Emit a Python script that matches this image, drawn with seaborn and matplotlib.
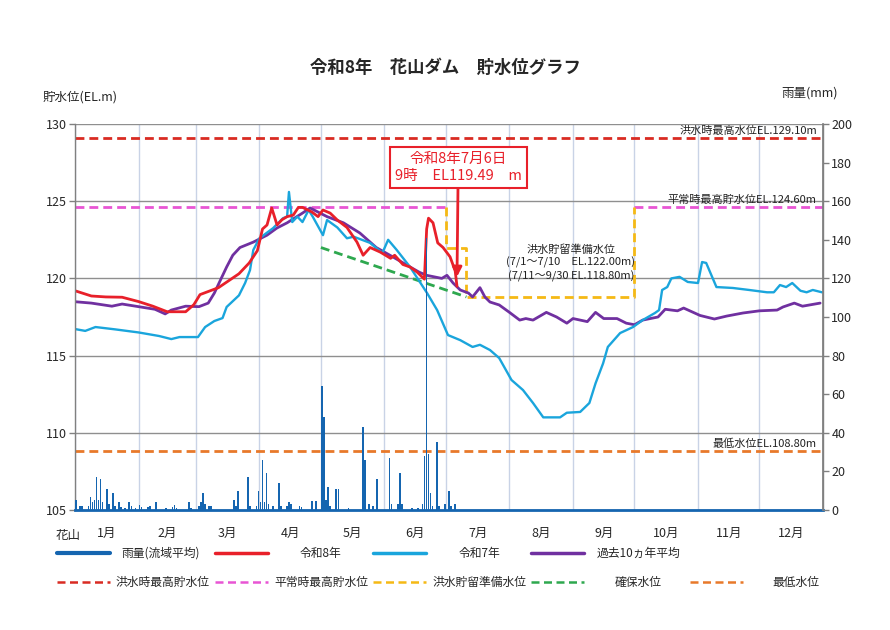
import numpy as np
import pandas as pd
import matplotlib
matplotlib.use("Agg")
import matplotlib.pyplot as plt
from matplotlib.lines import Line2D
import seaborn as sns

sns.set_theme(style="white")
plt.rcParams['font.family'] = ['Noto Sans CJK JP', 'DejaVu Sans']
plt.rcParams['axes.unicode_minus'] = False

# ---------------- data ----------------
month_labels = ["1月", "2月", "3月", "4月", "5月", "6月", "7月", "8月", "9月", "10月", "11月", "12月"]
month_starts = [0, 31, 59, 90, 120, 151, 181, 212, 243, 273, 304, 334, 365]

# 令和8年 (day of year, EL.m)
r8_days = [0, 8, 15, 23, 31, 38, 45, 54, 58, 61, 70, 80, 85, 89, 91.5, 93.7, 96, 98.6, 101, 103.5,
           106.5, 109, 111, 115.6, 118.6, 121, 124.5, 128, 132.7, 137.6, 140.6, 144, 149, 154, 156,
           160, 163.5, 167, 170.5, 171.6, 172.5, 174.7, 177, 179.6, 183, 185.5, 186.4]
r8_vals = [119.2, 118.86, 118.8, 118.78, 118.5, 118.2, 117.84, 117.84, 118.3, 118.95, 119.4, 120.3,
           121.0, 121.8, 123.2, 123.46, 124.56, 123.46, 123.8, 124.0, 124.1, 124.6, 124.6, 124.3,
           124.0, 124.43, 124.23, 123.78, 123.3, 122.35, 121.5, 122.0, 121.7, 121.3, 121.5, 120.9,
           120.74, 120.4, 119.95, 123.2, 123.9, 123.6, 122.3, 122.0, 121.4, 120.5, 119.49]

# 令和7年
r7_days = [0, 5, 10, 19.5, 31, 41, 47, 51, 60, 63.5, 68, 72, 74, 80, 83, 85.4, 87, 90, 96.7, 101.5,
           103.5, 104.4, 106, 108.5, 111, 114, 116, 121, 123, 128, 132.7, 136, 144, 150, 152.8, 157,
           163.5, 171.8, 176.7, 182, 188, 194, 197.6, 202.5, 207, 213, 218.6, 223.5, 228.5, 236.7,
           240, 246.5, 251, 254, 257.7, 260, 266, 272.3, 277, 283, 285, 286.5, 289, 291, 295, 299,
           304, 306, 308, 313, 321, 329, 337.7, 341, 344, 347, 350, 354, 357, 360, 364.5]
r7_vals = [116.72, 116.6, 116.85, 116.7, 116.5, 116.27, 116.07, 116.2, 116.2, 116.85, 117.24, 117.43,
           118.15, 118.9, 119.7, 120.54, 121.84, 122.6, 123.26, 123.9, 124.0, 125.6, 123.65, 124.0,
           123.65, 124.43, 124.0, 122.8, 123.78, 123.3, 122.6, 122.7, 122.3, 121.65, 122.5, 121.84,
           120.74, 119.05, 117.95, 116.33, 116.0, 115.56, 115.7, 115.36, 114.84, 113.42, 112.77,
           111.93, 111.0, 111.0, 111.3, 111.35, 111.93, 113.2, 114.5, 115.56, 116.46, 116.85, 117.3,
           117.76, 117.95, 119.25, 119.44, 120.0, 120.1, 119.77, 119.7, 121.06, 121.0, 119.44,
           119.38, 119.25, 119.1, 119.1, 119.57, 119.44, 119.7, 119.2, 119.1, 119.25, 119.1]

# 過去10ヵ年平均
avg_days = [0, 8, 18, 23, 31, 39, 44, 47, 54, 60.5, 65, 68, 71, 74, 77, 80.5, 87, 93.7, 98.5, 103.5,
            111, 114.7, 123, 131, 139, 147, 155, 163.5, 168, 171.6, 179, 181.5, 184.5, 188, 192, 194,
            197.6, 200, 202.5, 207, 212, 217, 220, 223.5, 230, 235, 240, 243, 250, 254, 258, 264.5,
            269, 273, 277, 284.5, 288, 294, 297, 305, 312, 318, 326, 334, 342.6, 345.5, 351, 355, 363.6]
avg_vals = [118.49, 118.4, 118.2, 118.34, 118.17, 118.0, 117.7, 117.95, 118.2, 118.17, 118.4, 119.05,
            119.9, 120.74, 121.5, 122.0, 122.35, 122.8, 123.26, 123.6, 124.23, 124.56, 124.0, 123.6,
            122.94, 122.0, 121.4, 120.74, 120.4, 120.2, 120.0, 120.2, 119.7, 119.25, 119.05, 118.8,
            119.4, 118.8, 118.47, 118.28, 117.8, 117.3, 117.4, 117.3, 117.8, 117.5, 117.1, 117.4,
            117.2, 117.8, 117.4, 117.4, 117.1, 117.0, 117.3, 117.5, 118.0, 117.9, 118.08, 117.6,
            117.37, 117.56, 117.76, 117.9, 117.95, 118.15, 118.4, 118.2, 118.4]

# 雨量(流域平均) mm
rain_days = [0, 2, 3, 6, 7, 8, 9, 10, 11, 12, 13, 15, 16, 18, 19, 21, 22, 24, 26, 27, 29, 31, 32,
             35, 36, 39, 44, 47, 48, 49, 55, 56, 60, 61, 62, 63, 65, 66, 77, 78, 79, 84, 85, 88, 89,
             90, 91, 92, 93, 94, 96, 99, 100, 103, 104, 105, 109, 110, 115, 117, 120, 121, 122, 123,
             124, 127, 128, 133, 140, 141, 143, 145, 147, 153, 154, 157, 158, 159, 164, 167, 169,
             170, 171, 172, 173, 174, 176, 177, 180, 182, 183, 185]
rain_mm = [5.2, 2, 2, 2, 6.5, 4, 5, 17, 5, 16, 4, 11, 3, 9, 2, 4, 1.5, 1, 4, 2, 1, 2.5, 1.5,
           1.5, 2, 4, 1, 1.5, 2.5, 1, 4, 1, 2, 4, 9, 3, 2, 2, 5, 2, 10, 17, 2, 2, 10,
           4, 26, 4, 19, 3, 2, 14, 2, 2, 4, 3, 2, 1.5, 4.5, 4.5, 64, 48, 5, 12,
           2, 11, 11, 1, 43, 26, 3, 2, 16, 27, 3, 3, 19, 3, 1, 1, 3,
           28, 141, 29, 9, 2, 35, 2, 3, 10, 2, 3]

# reference levels
flood_max_level = 129.1
normal_max_level = 124.6
lowest_level = 108.8
prep_days = [181, 181, 191, 191, 273, 273]
prep_vals = [124.6, 122.0, 122.0, 118.8, 118.8, 124.6]
secure_days = [120, 191]
secure_vals = [122.0, 118.8]

# ---------------- colors ----------------
C_RAIN = "#1565b0"
C_R8 = "#e8202a"
C_R7 = "#1aa5dc"
C_AVG = "#7030a0"
C_FLOOD = "#d92b22"
C_NORMAL = "#e855d4"
C_PREP = "#f5b915"
C_SECURE = "#2ea84f"
C_LOW = "#e8792a"
DASH = (0, (3.2, 1.8))

# ---------------- figure ----------------
fig = plt.figure(figsize=(8.9, 6.3), dpi=100)
ax = fig.add_axes([75 / 890, 120 / 630, 748 / 890, 386 / 630])

# reference lines
sns.lineplot(x=[0, 365], y=[flood_max_level] * 2, ax=ax, color=C_FLOOD, lw=2, linestyle=DASH)
sns.lineplot(x=[0, 181], y=[normal_max_level] * 2, ax=ax, color=C_NORMAL, lw=2, linestyle=DASH)
sns.lineplot(x=[273, 365], y=[normal_max_level] * 2, ax=ax, color=C_NORMAL, lw=2, linestyle=DASH)
sns.lineplot(x=[0, 365], y=[lowest_level] * 2, ax=ax, color=C_LOW, lw=2, linestyle=DASH)
sns.lineplot(x=prep_days, y=prep_vals, ax=ax, color=C_PREP, lw=2, linestyle=DASH, sort=False,
             estimator=None)
sns.lineplot(x=secure_days, y=secure_vals, ax=ax, color=C_SECURE, lw=2, linestyle=DASH)

# series
sns.lineplot(x=avg_days, y=avg_vals, ax=ax, color=C_AVG, lw=2.0, sort=False, estimator=None)
sns.lineplot(x=r7_days, y=r7_vals, ax=ax, color=C_R7, lw=1.7, sort=False, estimator=None)
sns.lineplot(x=r8_days, y=r8_vals, ax=ax, color=C_R8, lw=2.0, sort=False, estimator=None)

ax.set_xlim(0, 365)
ax.set_ylim(105, 130)
ax.set_yticks([105, 110, 115, 120, 125, 130])
ax.set_xticks([(month_starts[i] + month_starts[i + 1]) / 2 for i in range(12)])
ax.set_xticklabels(month_labels)
ax.set_xticks(month_starts, minor=True)
ax.tick_params(axis='x', which='both', length=0, labelsize=9, pad=12)
ax.tick_params(axis='y', which='major', direction='out', length=4, width=1, color='#808080',
               labelsize=9, pad=2)
ax.grid(False)
ax.grid(axis='y', which='major', color='#8f8f8f', lw=1.0)
ax.grid(axis='x', which='minor', color='#c9d3e6', lw=1.0)
ax.set_xlabel("")
ax.set_ylabel("")
for s in ['left', 'right', 'top']:
    ax.spines[s].set_color('#808080')
    ax.spines[s].set_linewidth(1)
ax.spines['top'].set_visible(False)
ax.spines['bottom'].set_color(C_RAIN)
ax.spines['bottom'].set_linewidth(2)

# rain on twin axis
rain_df = pd.DataFrame({"day": rain_days, "mm": rain_mm})
ax2 = ax.twinx()
sns.histplot(data=rain_df, x="day", weights="mm", binwidth=1, binrange=(0, 365), ax=ax2,
             color=C_RAIN, alpha=1, linewidth=0, shrink=0.8)
ax2.set_ylim(0, 200)
ax2.set_xlim(0, 365)
ax2.set_yticks(np.arange(0, 201, 20))
ax2.set_ylabel("")
ax2.set_xlabel("")
ax2.tick_params(axis='y', direction='out', length=4, width=1, color='#808080', labelsize=9, pad=2)
ax2.grid(False)
for s in ['left', 'right', 'top', 'bottom']:
    ax2.spines[s].set_visible(False)
ax2.spines['right'].set_visible(True)
ax2.spines['right'].set_color('#808080')

# level texts
ax.text(362, flood_max_level + 0.15, "洪水時最高水位EL.129.10m", ha='right', va='bottom', fontsize=8,
        color='#222222')
ax.text(362, normal_max_level + 0.15, "平常時最高貯水位EL.124.60m", ha='right', va='bottom', fontsize=8,
        color='#222222')
ax.text(362, lowest_level + 0.15, "最低水位EL.108.80m", ha='right', va='bottom', fontsize=8,
        color='#222222')
ax.text(242, 121.0, "洪水貯留準備水位\n(7/1～7/10　EL.122.00m)\n(7/11～9/30 EL.118.80m)",
        ha='center', va='center', fontsize=8, color='#222222', linespacing=1.25)

# annotation
ax.annotate("令和8年7月6日\n9時　EL119.49　m", xy=(186.4, 120.1), xytext=(187, 127.2),
            ha='center', va='center', color=C_R8, fontsize=10.5, linespacing=1.25,
            bbox=dict(boxstyle='square,pad=0.35', fc='white', ec=C_R8, lw=1.5),
            arrowprops=dict(arrowstyle='-|>', color=C_R8, lw=2, mutation_scale=14,
                            shrinkA=0, shrinkB=0))

# titles
fig.text(445 / 890, 1 - 68 / 630, "令和8年　花山ダム　貯水位グラフ", ha='center', va='center',
         fontsize=12.5, fontweight='bold')
fig.text(43 / 890, 1 - 97 / 630, "貯水位(EL.m)", ha='left', va='center', fontsize=9)
fig.text(838 / 890, 1 - 93 / 630, "雨量(mm)", ha='right', va='center', fontsize=9)
fig.text(68 / 890, 1 - 535 / 630, "花山", ha='center', va='center', fontsize=9)

# manual legend
def leg_item(x0, x1, xl, y, color, label, lw=2.5, ls='-'):
    fy = 1 - y / 630
    fig.add_artist(Line2D([x0 / 890, x1 / 890], [fy, fy], transform=fig.transFigure, color=color,
                          lw=lw, linestyle=ls))
    fig.text(xl / 890, fy, label, ha='center', va='center', fontsize=8.5)

leg_item(57, 110, 161, 553, C_RAIN, "雨量(流域平均)", lw=3)
leg_item(215, 268, 321, 553, C_R8, "令和8年")
leg_item(373, 426, 479, 553, C_R7, "令和7年")
leg_item(531, 584, 638, 553, C_AVG, "過去10ヵ年平均")
leg_item(57, 110, 162, 582, C_FLOOD, "洪水時最高貯水位", lw=1.8, ls=DASH)
leg_item(215, 268, 321, 582, C_NORMAL, "平常時最高貯水位", lw=1.8, ls=DASH)
leg_item(373, 426, 479, 582, C_PREP, "洪水貯留準備水位", lw=1.8, ls=DASH)
leg_item(531, 584, 638, 582, C_SECURE, "確保水位", lw=1.8, ls=DASH)
leg_item(690, 743, 796, 582, C_LOW, "最低水位", lw=1.8, ls=DASH)

fig.savefig("out.png", dpi=100)
